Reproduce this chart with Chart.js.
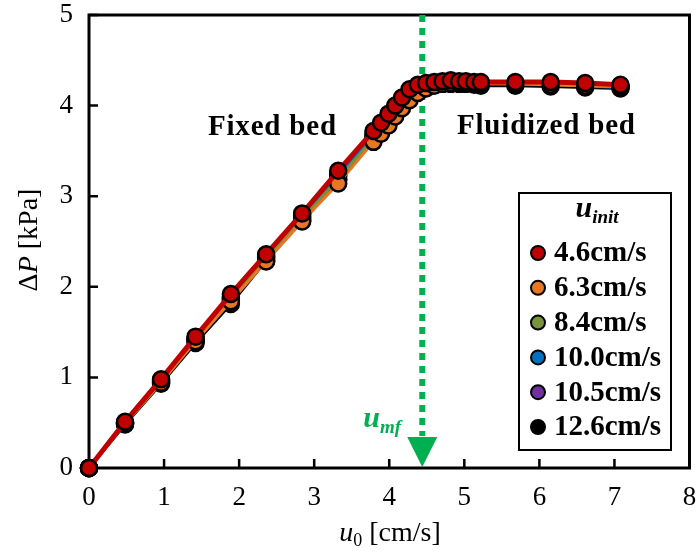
<!DOCTYPE html>
<html>
<head>
<meta charset="utf-8">
<script src="https://cdn.jsdelivr.net/npm/chart.js@4.4.1/dist/chart.umd.min.js"></script>
<style>
body { margin: 0; background: #fff; }
#wrap { width: 700px; height: 554px; }
</style>
</head>
<body>
<div id="wrap"><canvas id="dpChart" width="700" height="554"></canvas></div>
<script>
// superficial velocity u0 [cm/s]
var u0 = [0, 0.48, 0.96, 1.42, 1.89, 2.36, 2.84, 3.32, 3.79, 3.89, 3.99, 4.08, 4.17, 4.27, 4.38, 4.49, 4.60, 4.71, 4.82, 4.93, 5.02, 5.13, 5.22, 5.68, 6.15, 6.61, 7.08];

// pressure drop [kPa] for each initial velocity
var dp46 = [0, 0.51, 0.98, 1.45, 1.92, 2.36, 2.81, 3.28, 3.72, 3.81, 3.91, 4.00, 4.09, 4.18, 4.23, 4.25, 4.26, 4.27, 4.28, 4.27, 4.27, 4.26, 4.26, 4.26, 4.26, 4.25, 4.23];
var dp63 = [0, 0.49, 0.94, 1.40, 1.84, 2.28, 2.72, 3.14, 3.60, 3.69, 3.78, 3.88, 3.97, 4.06, 4.14, 4.19, 4.22, 4.24, 4.25, 4.25, 4.25, 4.24, 4.24, 4.24, 4.23, 4.22, 4.21];
var dp84 = [0, 0.49, 0.95, 1.41, 1.86, 2.31, 2.75, 3.19, 3.64, 3.73, 3.83, 3.93, 4.02, 4.11, 4.18, 4.22, 4.24, 4.25, 4.26, 4.26, 4.25, 4.25, 4.24, 4.24, 4.23, 4.22, 4.21];
var dp100 = [0, 0.50, 0.96, 1.42, 1.88, 2.33, 2.77, 3.22, 3.66, 3.75, 3.85, 3.95, 4.04, 4.13, 4.19, 4.23, 4.25, 4.26, 4.26, 4.26, 4.26, 4.25, 4.25, 4.24, 4.24, 4.22, 4.20];
var dp105 = [0, 0.50, 0.97, 1.43, 1.89, 2.34, 2.79, 3.24, 3.68, 3.77, 3.87, 3.97, 4.06, 4.15, 4.21, 4.24, 4.25, 4.26, 4.27, 4.26, 4.26, 4.25, 4.25, 4.25, 4.24, 4.23, 4.21];
var dp126 = [0, 0.48, 0.93, 1.38, 1.81, 2.29, 2.73, 3.18, 3.63, 3.72, 3.82, 3.92, 4.01, 4.10, 4.17, 4.21, 4.23, 4.24, 4.24, 4.24, 4.24, 4.23, 4.22, 4.22, 4.21, 4.20, 4.19];

var seriesLabels = ['4.6cm/s', '6.3cm/s', '8.4cm/s', '10.0cm/s', '10.5cm/s', '12.6cm/s'];
var seriesColors = ['#c00000', '#e87722', '#77933c', '#0070c0', '#7030a0', '#000000'];
var seriesValues = [dp46, dp63, dp84, dp100, dp105, dp126];

var xTicks = [0, 1, 2, 3, 4, 5, 6, 7, 8];
var yTicks = [0, 1, 2, 3, 4, 5];
var umf = 4.44;

var serif = '"Liberation Serif", "Times New Roman", serif';

var datasets = [];
for (var s = 0; s < seriesValues.length; s++) {
    var pts = [];
    for (var i = 0; i < u0.length; i++) {
        pts.push({ x: u0[i], y: seriesValues[s][i] });
    }
    datasets.push({
        label: seriesLabels[s],
        data: pts,
        showLine: true,
        borderColor: seriesColors[s],
        borderWidth: s === 0 ? 5 : 3,
        pointRadius: 8,
        pointBorderWidth: 2.5,
        pointBorderColor: '#000',
        pointBackgroundColor: seriesColors[s],
        tension: 0,
        clip: false
    });
}

// draws text pieces (italic, subscript...) one after another
function drawRuns(ctx, runs, x, y, align) {
    var total = 0;
    runs.forEach(function (r) { ctx.font = r.font; total += ctx.measureText(r.t).width; });
    var cx = align === 'center' ? x - total / 2 : x;
    runs.forEach(function (r) {
        ctx.font = r.font;
        ctx.fillText(r.t, cx, y + (r.dy || 0));
        cx += ctx.measureText(r.t).width;
    });
}

var frameAndMarks = {
    id: 'frameAndMarks',
    beforeDatasetsDraw: function (chart) {
        var ctx = chart.ctx, a = chart.chartArea;
        var xs = chart.scales.x, ys = chart.scales.y;
        ctx.save();
        ctx.strokeStyle = '#000';
        ctx.lineWidth = 3;
        ctx.strokeRect(a.left, a.top, a.right - a.left, a.bottom - a.top);
        ctx.lineWidth = 2.5;
        ctx.beginPath();
        xTicks.forEach(function (v) {
            var px = xs.getPixelForValue(v);
            ctx.moveTo(px, a.bottom); ctx.lineTo(px, a.bottom - 9);
        });
        yTicks.forEach(function (v) {
            var py = ys.getPixelForValue(v);
            ctx.moveTo(a.left, py); ctx.lineTo(a.left + 9, py);
        });
        ctx.stroke();

        // u_mf dotted line
        var ux = xs.getPixelForValue(umf);
        ctx.strokeStyle = '#00b050';
        ctx.lineWidth = 6;
        ctx.setLineDash([7, 6]);
        ctx.beginPath();
        ctx.moveTo(ux, a.top);
        ctx.lineTo(ux, a.bottom - 32);
        ctx.stroke();
        ctx.setLineDash([]);
        ctx.fillStyle = '#00b050';
        ctx.beginPath();
        ctx.moveTo(ux - 15, a.bottom - 31);
        ctx.lineTo(ux + 15, a.bottom - 31);
        ctx.lineTo(ux, a.bottom - 1);
        ctx.closePath();
        ctx.fill();
        ctx.restore();
    },
    afterDraw: function (chart) {
        var ctx = chart.ctx;
        var xs = chart.scales.x;
        ctx.save();
        ctx.fillStyle = '#000';
        ctx.textBaseline = 'alphabetic';
        ctx.textAlign = 'left';

        ctx.font = 'bold 29px ' + serif;
        ctx.letterSpacing = '0.8px';
        ctx.fillText('Fixed bed', 208, 135);
        ctx.fillText('Fluidized bed', 457, 134);
        ctx.letterSpacing = '0px';

        // u_mf label
        ctx.fillStyle = '#00b050';
        var ux = xs.getPixelForValue(umf);
        drawRuns(ctx, [
            { t: 'u', font: 'italic bold 30px ' + serif },
            { t: 'mf', font: 'italic bold 19px ' + serif, dy: 6 }
        ], ux - 59, 427, 'left');

        // axis titles
        ctx.fillStyle = '#000';
        drawRuns(ctx, [
            { t: 'u', font: 'italic 28px ' + serif },
            { t: '0', font: '18px ' + serif, dy: 5 },
            { t: ' [cm/s]', font: '28px ' + serif }
        ], 390, 541, 'center');

        ctx.save();
        ctx.translate(37, 240);
        ctx.rotate(-Math.PI / 2);
        drawRuns(ctx, [
            { t: '\u0394', font: '28px ' + serif },
            { t: 'P', font: 'italic 28px ' + serif },
            { t: ' [kPa]', font: '28px ' + serif }
        ], 0, 0, 'center');
        ctx.restore();

        // legend box
        ctx.lineWidth = 2;
        ctx.strokeStyle = '#000';
        ctx.fillStyle = '#fff';
        ctx.fillRect(519, 193, 152, 257);
        ctx.strokeRect(519, 193, 152, 257);
        ctx.fillStyle = '#000';
        drawRuns(ctx, [
            { t: 'u', font: 'italic bold 30px ' + serif },
            { t: 'init', font: 'italic bold 19px ' + serif, dy: 6 }
        ], 597, 217, 'center');
        ctx.textBaseline = 'middle';
        ctx.font = 'bold 29px ' + serif;
        for (var i = 0; i < seriesLabels.length; i++) {
            var ry = 253 + i * 34.8;
            ctx.beginPath();
            ctx.arc(538, ry, 7, 0, Math.PI * 2);
            ctx.fillStyle = seriesColors[i];
            ctx.fill();
            ctx.lineWidth = 2;
            ctx.stroke();
            ctx.fillStyle = '#000';
            ctx.fillText(seriesLabels[i], 554, ry + 1);
        }
        ctx.restore();
    }
};

var dpChart = new Chart(document.getElementById('dpChart'), {
    type: 'scatter',
    data: { datasets: datasets },
    options: {
        responsive: false,
        animation: false,
        layout: { padding: { top: 15, right: 9, left: 0, bottom: 0 } },
        plugins: { legend: { display: false }, tooltip: { enabled: false } },
        scales: {
            x: {
                type: 'linear', min: 0, max: 8,
                afterBuildTicks: function (scale) { scale.ticks = xTicks.map(function (v) { return { value: v }; }); },
                afterFit: function (scale) { scale.height = 86; scale.paddingLeft = 0; scale.paddingRight = 0; },
                grid: { display: false, drawTicks: false },
                border: { display: false },
                ticks: { color: '#000', font: { family: serif, size: 27 }, padding: 14, maxRotation: 0 }
            },
            y: {
                type: 'linear', min: 0, max: 5,
                afterBuildTicks: function (scale) { scale.ticks = yTicks.map(function (v) { return { value: v }; }); },
                afterFit: function (scale) { scale.width = 89; scale.paddingTop = 0; scale.paddingBottom = 0; },
                grid: { display: false, drawTicks: false },
                border: { display: false },
                ticks: { color: '#000', font: { family: serif, size: 27 }, padding: 16 }
            }
        }
    },
    plugins: [frameAndMarks]
});
</script>
</body>
</html>
